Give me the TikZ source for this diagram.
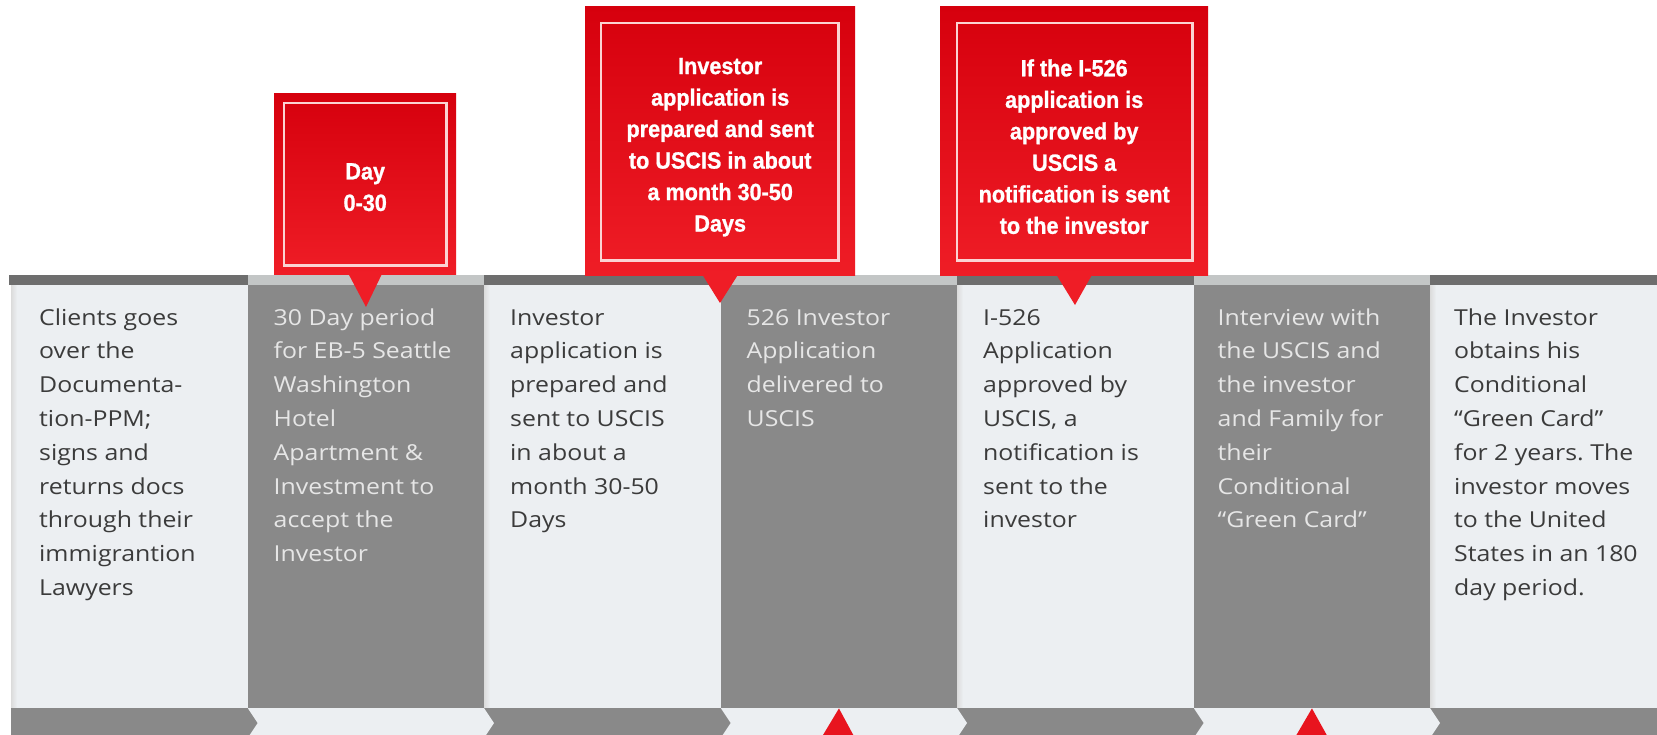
\documentclass[tikz,border=0pt]{standalone}
\usepackage{fontspec}
\setmainfont{Open Sans}
\newfontfamily\panelfont[FakeStretch=1.13]{Open Sans}
\newfontfamily\calloutfont[FakeStretch=0.92, FakeBold=1]{Liberation Sans}
\frenchspacing

\definecolor{panellight}{HTML}{ECEFF2}
\definecolor{paneldark}{HTML}{898989}
\definecolor{bardark}{HTML}{6E6E6E}
\definecolor{barlight}{HTML}{C3C6C6}
\definecolor{textdark}{HTML}{3B3B3B}
\definecolor{textlight}{HTML}{E6E6E6}
\definecolor{calloutred}{HTML}{E8141E}
\definecolor{calloutdeep}{HTML}{D6000D}
\definecolor{calloutbright}{HTML}{EF1D26}
\definecolor{calloutline}{HTML}{FBD3D3}

\begin{document}
\begin{tikzpicture}[x=1pt, y=-1pt,
  panel/.style={anchor=north west, inner sep=0pt, minimum width=236.5pt, minimum height=423pt},
  steptext/.style={anchor=north west, inner sep=0pt, align=left, font=\panelfont\fontsize{22}{33.8}\selectfont},
  callout/.style={anchor=north west, inner sep=0pt, top color=calloutdeep, bottom color=calloutbright},
  calloutframe/.style={draw=calloutline, line width=2.5pt},
  callouttext/.style={text=white, align=center, inner sep=0pt, font=\calloutfont\bfseries\fontsize{23.5}{31.5}\selectfont}]
\useasboundingbox (0,0) rectangle (1657,734);
\clip (0,0) rectangle (1657,734);
\fill[white] (0,0) rectangle (1657,734);

% step panels
\node[panel, fill=panellight] (p1) at (11,285) {};
\node[panel, fill=paneldark] (p2) at (247.5,285) {};
\node[panel, fill=panellight] (p3) at (484,285) {};
\node[panel, fill=paneldark] (p4) at (720.5,285) {};
\node[panel, fill=panellight] (p5) at (957,285) {};
\node[panel, fill=paneldark] (p6) at (1193.5,285) {};
\node[panel, fill=panellight] (p7) at (1430,285) {};
\shade[left color=black!14, right color=panellight] (p1.north west) rectangle ([xshift=6]p1.south west);
\shade[left color=black!14, right color=panellight] (p3.north west) rectangle ([xshift=6]p3.south west);
\shade[left color=black!14, right color=panellight] (p5.north west) rectangle ([xshift=6]p5.south west);
\shade[left color=black!14, right color=panellight] (p7.north west) rectangle ([xshift=6]p7.south west);

% top bar
\fill[bardark] (9,275) rectangle (p1.north east);
\fill[barlight] (247.5,275) rectangle (p2.north east);
\fill[bardark] (484,275) rectangle (p3.north east);
\fill[barlight] (720.5,275) rectangle (p4.north east);
\fill[bardark] (957,275) rectangle (p5.north east);
\fill[barlight] (1193.5,275) rectangle (p6.north east);
\fill[bardark] (1430,275) rectangle (p7.north east);

% bottom strip
\fill[paneldark] (p1.south west) rectangle (247.5,740);
\fill[panellight] (p2.south west) rectangle (484,740);
\fill[paneldark] (p3.south west) rectangle (720.5,740);
\fill[panellight] (p4.south west) rectangle (957,740);
\fill[paneldark] (p5.south west) rectangle (1193.5,740);
\fill[panellight] (p6.south west) rectangle (1430,740);
\fill[paneldark] (p7.south west) rectangle (1666.5,740);
\fill[paneldark] (247.5,708) -- (257.5,723) -- (247.5,738) -- cycle;
\fill[panellight] (484,708) -- (494,723) -- (484,738) -- cycle;
\fill[paneldark] (720.5,708) -- (730.5,723) -- (720.5,738) -- cycle;
\fill[panellight] (957,708) -- (967,723) -- (957,738) -- cycle;
\fill[paneldark] (1193.5,708) -- (1203.5,723) -- (1193.5,738) -- cycle;
\fill[panellight] (1430,708) -- (1440,723) -- (1430,738) -- cycle;
\fill[calloutred] (p4.south) -- (820,740) -- (856,740) -- cycle;
\fill[calloutred] (p6.south) -- (1293.5,740) -- (1329.5,740) -- cycle;

% step texts
\node[steptext, text=textdark] (t1) at ([shift={(28,16.3)}]p1.north west)
  {\strut Clients goes\\over the\\Documenta-\\tion-PPM;\\signs and\\returns docs\\through their\\immigrantion\\Lawyers};
\node[steptext, text=textlight] (t2) at ([shift={(26,16.3)}]p2.north west)
  {\strut 30 Day period\\for EB-5 Seattle\\Washington\\Hotel\\Apartment \&\\Investment to\\accept the\\Investor};
\node[steptext, text=textdark] (t3) at ([shift={(26,16.3)}]p3.north west)
  {\strut Investor\\application is\\prepared and\\sent to USCIS\\in about a\\month 30-50\\Days};
\node[steptext, text=textlight] (t4) at ([shift={(26,16.3)}]p4.north west)
  {\strut 526 Investor\\Application\\delivered to\\USCIS};
\node[steptext, text=textdark] (t5) at ([shift={(26,16.3)}]p5.north west)
  {\strut I-526\\Application\\approved by\\USCIS, a\\notification is\\sent to the\\investor};
\node[steptext, text=textlight] (t6) at ([shift={(24,16.3)}]p6.north west)
  {\strut Interview with\\the USCIS and\\the investor\\and Family for\\their\\Conditional\\“Green Card”};
\node[steptext, text=textdark] (t7) at ([shift={(24,16.3)}]p7.north west)
  {\strut The Investor\\obtains his\\Conditional\\“Green Card”\\for 2 years. The\\investor moves\\to the United\\States in an 180\\day period.};

% callouts
\node[callout, minimum width=182pt, minimum height=181pt] (c1) at (274,93) {};
\coordinate (c1tip) at (366,307);
\fill[calloutbright] ([shift={(-17,-1)}]c1.south) -- (c1tip) -- ([shift={(17,-1)}]c1.south) -- cycle;
\draw[calloutframe] ([shift={(10,10)}]c1.north west) rectangle ([shift={(-10,-9)}]c1.south east);
\node[callouttext] (l1) at ([shift={(0,3.5)}]c1.center) {Day\\0-30};

\node[callout, minimum width=270pt, minimum height=269pt] (c2) at (585,6) {};
\coordinate (c2tip) at (720,303);
\fill[calloutbright] ([shift={(-18,-1)}]c2.south) -- (c2tip) -- ([shift={(18,-1)}]c2.south) -- cycle;
\draw[calloutframe] ([shift={(16,17)}]c2.north west) rectangle ([shift={(-17,-15)}]c2.south east);
\node[callouttext] (l2) at ([shift={(0,6.5)}]c2.center)
  {Investor\\application is\\prepared and sent\\to USCIS in about\\a month 30-50\\Days};

\node[callout, minimum width=268pt, minimum height=269pt] (c3) at (940,6) {};
\coordinate (c3tip) at (1075,305);
\fill[calloutbright] ([shift={(-18,-1)}]c3.south) -- (c3tip) -- ([shift={(18,-1)}]c3.south) -- cycle;
\draw[calloutframe] ([shift={(17,17)}]c3.north west) rectangle ([shift={(-16,-15)}]c3.south east);
\node[callouttext] (l3) at ([shift={(0,6)}]c3.center)
  {If the I-526\\application is\\approved by\\USCIS a\\notification is sent\\to the investor};
\end{tikzpicture}
\end{document}
